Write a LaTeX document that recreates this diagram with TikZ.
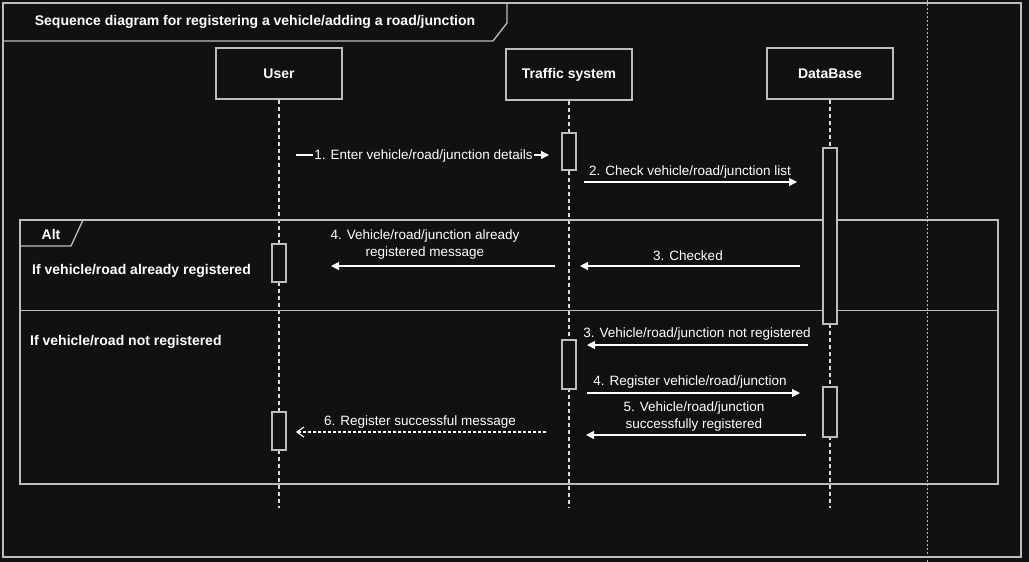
\documentclass[tikz,border=0pt]{standalone}
\usepackage{fontspec}
\setmainfont{Liberation Sans}
\usetikzlibrary{arrows.meta}
\definecolor{bg}{HTML}{111111}
\definecolor{fr}{HTML}{BDBDBD}
\begin{document}
\begin{tikzpicture}[x=1pt,y=-1pt,
 frame/.style={draw=fr,line width=1.3pt},
 actor/.style={draw=fr,line width=1.6pt,fill=bg,minimum width=126pt,minimum height=51pt,text=white,font=\fontsize{14}{16}\selectfont\bfseries},
 life/.style={draw=white!85!black,dash pattern=on 4pt off 3pt,line width=1.1pt},
 bar/.style={draw=fr,line width=1.3pt,fill=bg,minimum width=14pt,inner sep=0pt},
 msg/.style={draw=white,line width=1.2pt,-{Triangle[width=8pt,length=8pt]}},
 rmsg/.style={draw=white,line width=1.1pt,dash pattern=on 3pt off 2pt,-{Straight Barb[width=10pt,length=7pt]}},
 lbl/.style={text=white,font=\fontsize{13.5}{16.5}\selectfont,align=center,inner sep=1pt},
 cond/.style={text=white,font=\fontsize{14}{16}\selectfont\bfseries,anchor=west,inner sep=0pt}]
\fill[bg] (0,0) rectangle (1029,562);
\useasboundingbox (0,0) rectangle (1029,562);
% dim vertical guide
\draw[gray!55,dash pattern=on 2pt off 2pt,line width=0.6pt] (927,0) -- (927,562);
% outer frame and title tab
\draw[frame] (3,3) rectangle (1021,557);
\draw[frame] (3,41) -- (493,41) -- (507,23) -- (507,3);
\node[text=white,font=\fontsize{14}{16}\selectfont\bfseries] (title) at (255,22) {Sequence diagram for registering a vehicle/adding a road/junction};
% actors
\node[actor] (user) at (279,73.5) {User};
\node[actor] (ts) at (569,74.5) {Traffic system};
\node[actor] (db) at (830,73.5) {DataBase};
\coordinate (userend) at (279,508);
\coordinate (tsend) at (569,508);
\coordinate (dbend) at (830,508);
\draw[life] (user.south) -- (userend);
\draw[life] (ts.south) -- (tsend);
\draw[life] (db.south) -- (dbend);
% alt frame
\draw[frame] (20,220) rectangle (998,484);
\draw[fr,line width=1pt] (20,310) -- (998,310);
\draw[frame] (20,246) -- (71,246) -- (83,220);
\node[text=white,font=\fontsize{14}{16}\selectfont\bfseries] (alt) at (51,234) {Alt};
\node[cond] (c1) at (32,271) {If vehicle/road already registered};
\node[cond] (c2) at (30,342) {If vehicle/road not registered};
% activation bars
\node[bar,minimum height=37pt] (tb1) at (569,151.5) {};
\node[bar,minimum height=176pt] (db1) at (830,236) {};
\node[bar,minimum height=38pt] (ub1) at (279,263) {};
\node[bar,minimum height=49pt] (tb2) at (569,364.5) {};
\node[bar,minimum height=50pt] (db2) at (830,412) {};
\node[bar,minimum height=38pt] (ub2) at (279,431) {};
% messages
\coordinate (m1s) at (296,155); \coordinate (m1e) at (549,155);
\draw[msg] (m1s) -- (m1e);
\node[lbl,fill=bg] (l1) at (423.5,156) {1. Enter vehicle/road/junction details};
\coordinate (m2s) at (584,182); \coordinate (m2e) at (797,182);
\draw[msg] (m2s) -- (m2e);
\node[lbl] (l2) at (690,172) {2. Check vehicle/road/junction list};
\coordinate (m3s) at (800,266); \coordinate (m3e) at (580,266);
\draw[msg] (m3s) -- (m3e);
\node[lbl] (l3) at (688,256) {3. Checked};
\coordinate (m4s) at (555,266); \coordinate (m4e) at (331,266);
\draw[msg] (m4s) -- (m4e);
\node[lbl] (l4) at (425,244.5) {4. Vehicle/road/junction already\\registered message};
\coordinate (m5s) at (808,345); \coordinate (m5e) at (587,345);
\draw[msg] (m5s) -- (m5e);
\node[lbl] (l5) at (697,334.5) {3. Vehicle/road/junction not registered};
\coordinate (m6s) at (587,393); \coordinate (m6e) at (800,393);
\draw[msg] (m6s) -- (m6e);
\node[lbl] (l6) at (690,382) {4. Register vehicle/road/junction};
\coordinate (m7s) at (806,435); \coordinate (m7e) at (586,435);
\draw[msg] (m7s) -- (m7e);
\node[lbl] (l7) at (694,416.5) {5. Vehicle/road/junction\\successfully registered};
\coordinate (m8s) at (546,432); \coordinate (m8e) at (296,432);
\draw[rmsg] (m8s) -- (m8e);
\node[lbl] (l8) at (420,422) {6. Register successful message};
\end{tikzpicture}
\end{document}
